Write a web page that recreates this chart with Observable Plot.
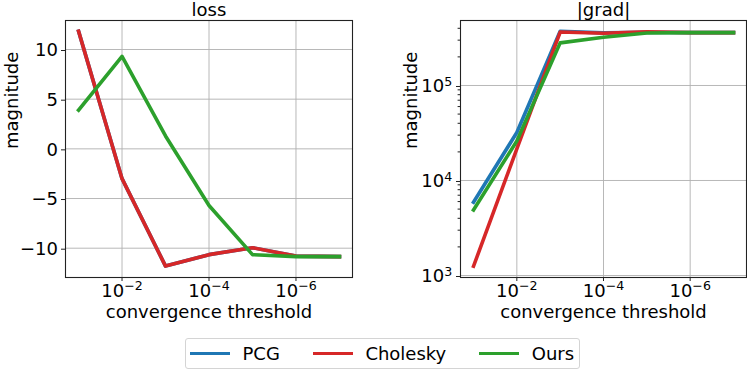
<!DOCTYPE html>
<html>
<head>
<meta charset="utf-8">
<script src="https://cdn.jsdelivr.net/npm/d3@7"></script>
<script src="https://cdn.jsdelivr.net/npm/@observablehq/plot@0.6"></script>
<style>
  html, body { margin: 0; padding: 0; background: white; }
  #wrap { position: relative; width: 747px; height: 371px; font-family: "DejaVu Sans", sans-serif; }
  #panels { display: flex; }
  #legend {
    position: absolute; left: 185px; top: 338px; width: 395px; height: 31px;
    box-sizing: border-box; border: 1px solid #d4d4d4; border-radius: 3px;
    display: flex; align-items: center; padding-left: 4px; font-size: 18px; color: #000;
  }
  .item { display: flex; align-items: center; margin-right: 33px; }
  .swatch { width: 40px; height: 3.5px; margin-right: 12.5px; }
</style>
</head>
<body>
<div id="wrap">
  <div id="panels"></div>
  <div id="legend"></div>
</div>
<script>
// ---- data ----
const thresholds = [1e-1, 1e-2, 1e-3, 1e-4, 1e-5, 1e-6, 1e-7];
const seriesNames = ["PCG", "Cholesky", "Ours"];
const seriesColors = ["#1f77b4", "#d62728", "#2ca02c"];

const lossPCG      = [11.85, -3.0, -11.8, -10.65, -9.95, -10.8, -10.85];
const lossCholesky = [11.85, -3.0, -11.8, -10.65, -9.95, -10.8, -10.85];
const lossOurs     = [3.9, 9.3, 1.3, -5.7, -10.65, -10.85, -10.85];

const gradPCG      = [5900, 32000, 372000, 358000, 364000, 360000, 360000];
const gradCholesky = [1250, 21500, 365000, 355000, 368000, 360000, 360000];
const gradOurs     = [4900, 26000, 281000, 322000, 357000, 360000, 360000];

const xTicks = [1e-2, 1e-4, 1e-6];
const lossTicks = [-10, -5, 0, 5, 10];
const gradTicks = [1e3, 1e4, 1e5];
const gradMinor = [2e3,3e3,4e3,5e3,6e3,7e3,8e3,9e3,2e4,3e4,4e4,5e4,6e4,7e4,8e4,9e4,2e5,3e5,4e5];

function rows(vals) { return thresholds.map((t, i) => ({x: t, y: vals[i]})); }

const powFmt = d => "10^" + String(Math.round(Math.log10(d))).replace("-", "\u2212");

function supify(svg) {
  svg.querySelectorAll("text").forEach(t => {
    const m = /^10\^(.+)$/.exec(t.textContent);
    if (!m) return;
    t.textContent = "10";
    const ts = document.createElementNS("http://www.w3.org/2000/svg", "tspan");
    ts.setAttribute("dy", "-6.3");
    ts.setAttribute("font-size", "12.6");
    ts.textContent = m[1];
    t.appendChild(ts);
  });
}

function panel({title, series, y, yTicks, yMinor, width, marginLeft, marginRight, yLabelDx, yTickPad}) {
  const marks = [
    Plot.gridX(xTicks, {stroke: "#b0b0b0", strokeOpacity: 1, strokeWidth: 0.9}),
    Plot.gridY(yTicks, {stroke: "#b0b0b0", strokeOpacity: 1, strokeWidth: 0.9}),
  ];
  series.forEach((vals, i) => {
    marks.push(Plot.line(rows(vals), {x: "x", y: "y", stroke: seriesColors[i], strokeWidth: 3.6, strokeLinecap: "square", strokeLinejoin: "round"}));
  });
  marks.push(
    Plot.axisX({ticks: xTicks, tickFormat: powFmt, tickSize: 4, tickPadding: 2.5, fontSize: 18, label: null, stroke: "#222"}),
    Plot.axisY({ticks: yTicks, tickFormat: y.type === "log" ? powFmt : (d => d3.format("d")(d).replace("-", "\u2212")), tickSize: 4, tickPadding: yTickPad, fontSize: 18, label: null, dy: 1, stroke: "#222"})
  );
  if (yMinor) marks.push(Plot.axisY({ticks: yMinor, tickFormat: () => "", tickSize: 2.4, label: null, stroke: "#222"}));
  marks.push(
    Plot.frame({stroke: "#222", strokeWidth: 1.1}),
    Plot.text([title], {frameAnchor: "top", dy: -5, lineAnchor: "bottom", fontSize: 18, fill: "#000"}),
    Plot.text(["convergence threshold"], {frameAnchor: "bottom", dy: 40, lineAnchor: "bottom", fontSize: 18, fill: "#000"}),
    Plot.text(["magnitude"], {frameAnchor: "left", dx: yLabelDx, rotate: -90, lineAnchor: "bottom", fontSize: 18, fill: "#000"})
  );
  const svg = Plot.plot({
    width, height: 330,
    marginLeft, marginRight, marginTop: 20, marginBottom: 53,
    style: {fontFamily: "DejaVu Sans", fontSize: "18px", color: "#000", background: "white", overflow: "visible"},
    x: {type: "log", domain: [Math.pow(10, -0.7), Math.pow(10, -7.3)]},
    y,
    marks
  });
  supify(svg);
  return svg;
}

const panels = document.getElementById("panels");
panels.appendChild(panel({
  title: "loss",
  series: [lossPCG, lossCholesky, lossOurs],
  y: {type: "linear", domain: [-12.95, 12.92]},
  yTicks: lossTicks,
  width: 373, marginLeft: 65, marginRight: 21, yLabelDx: -48, yTickPad: 3.5
}));
panels.appendChild(panel({
  title: "|grad|",
  series: [gradPCG, gradCholesky, gradOurs],
  y: {type: "log", domain: [Math.pow(10, 2.979), Math.pow(10, 5.684)]},
  yTicks: gradTicks, yMinor: gradMinor,
  width: 374, marginLeft: 87, marginRight: 1, yLabelDx: -43.5, yTickPad: 4.3
}));

const legend = document.getElementById("legend");
seriesNames.forEach((name, i) => {
  const item = document.createElement("div");
  item.className = "item";
  const sw = document.createElement("div");
  sw.className = "swatch";
  sw.style.background = seriesColors[i];
  const lab = document.createElement("span");
  lab.textContent = name;
  item.appendChild(sw);
  item.appendChild(lab);
  legend.appendChild(item);
});
</script>
</body>
</html>
